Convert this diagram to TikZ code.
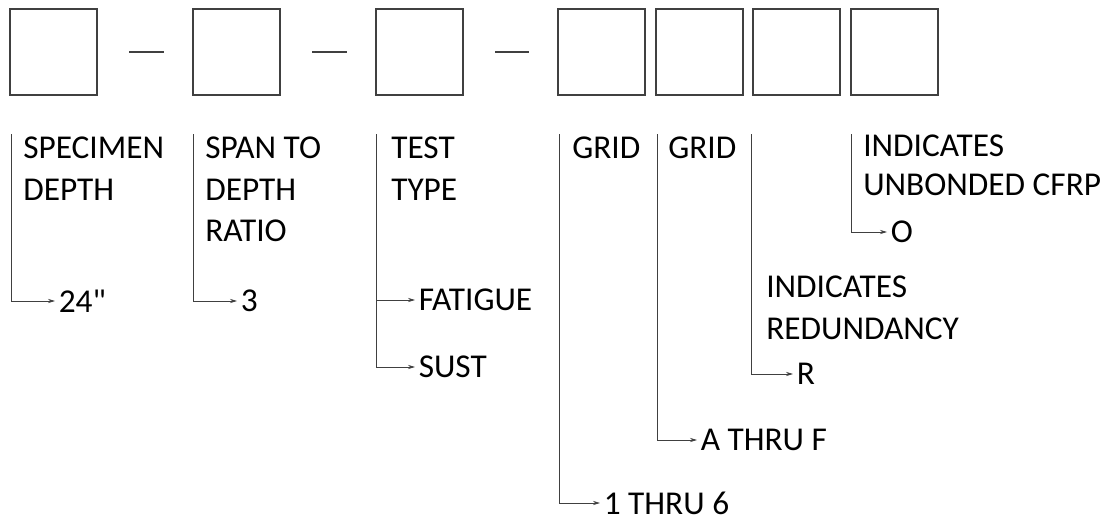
\documentclass[tikz,border=0pt]{standalone}
\usepackage{fontspec}
\setmainfont{Carlito}[Ligatures=TeXOff]
\usetikzlibrary{arrows.meta}

\begin{document}
\begin{tikzpicture}[x=0.025cm, y=-0.025cm, >={Stealth[length=5pt, width=3pt]},
        casebox/.style={draw=black!75, line width=0.9pt, minimum width=2.175cm,
            minimum height=2.15cm, inner sep=0pt},
        tiret/.style={draw=black!75, line width=0.8pt},
        titre/.style={font=\fontsize{23.7}{29.5}\selectfont, align=left,
            anchor=north west, inner sep=0pt},
        titreserre/.style={titre, font=\fontsize{23.7}{27.4}\selectfont},
        valeur/.style={font=\fontsize{23.7}{29.5}\selectfont, anchor=west,
            inner xsep=2.5pt, inner ysep=0pt},
        renvoi/.style={draw=black!75, line width=0.6pt, ->}]

        \useasboundingbox (0,0) rectangle (1110,519);

        % ==============================================================
        % 1. CASES DE LA DESIGNATION
        % ==============================================================
        \node[casebox] (b1) at (53.5, 52) {};
        \node[casebox] (b2) at (236.5, 52) {};
        \node[casebox] (b3) at (419.5, 52) {};
        \node[casebox] (b4) at (601.5, 52) {};
        \node[casebox] (b5) at (699.5, 52) {};
        \node[casebox] (b6) at (796.5, 52) {};
        \node[casebox] (b7) at (894.5, 52) {};

        % Tirets entre les groupes
        \coordinate (d1a) at (129, 52);  \coordinate (d1b) at (164, 52);
        \coordinate (d2a) at (312, 52);  \coordinate (d2b) at (347, 52);
        \coordinate (d3a) at (495, 52);  \coordinate (d3b) at (529, 52);
        \draw[tiret] (d1a) -- (d1b);
        \draw[tiret] (d2a) -- (d2b);
        \draw[tiret] (d3a) -- (d3b);

        % ==============================================================
        % 2. INTITULES DES CHAMPS
        % ==============================================================
        \node[titre] (h1) at (23, 137) {SPECIMEN\\DEPTH};
        \node[titre] (h2) at (205, 137) {SPAN TO\\DEPTH\\RATIO};
        \node[titre] (h3) at (391, 137) {TEST\\TYPE};
        \node[titre] (h4) at (572, 137) {GRID};
        \node[titre] (h5) at (668, 137) {GRID};
        \node[titre] (h6) at (766, 276) {INDICATES\\REDUNDANCY};
        \node[titreserre] (h7) at (863, 135) {INDICATES\\UNBONDED CFRP};

        % ==============================================================
        % 3. VALEURS POSSIBLES
        % ==============================================================
        \node[valeur] (v24)   at (55, 301)  {24"};
        \node[valeur] (vtrois) at (237, 301) {3};
        \node[valeur] (vfat)  at (415, 300) {FATIGUE};
        \node[valeur] (vsust) at (415, 367) {SUST};
        \node[valeur] (vnum)  at (600, 503) {1 THRU 6};
        \node[valeur] (vlet)  at (697, 440) {A THRU F};
        \node[valeur] (vred)  at (793, 374) {R};
        \node[valeur] (vcfrp) at (887, 232) {O};

        % ==============================================================
        % 4. LIGNES DE RENVOI
        % ==============================================================
        % Departs des lignes (sous les cases)
        \coordinate (t1) at (11, 134);
        \coordinate (t2) at (193, 134);
        \coordinate (t3) at (376, 134);
        \coordinate (t4) at (559, 134);
        \coordinate (t5) at (657, 134);
        \coordinate (t6) at (751, 134);
        \coordinate (t7) at (851, 134);

        \draw[renvoi] (t1) |- (v24);
        \draw[renvoi] (t2) |- (vtrois);
        \draw[renvoi] (t3) |- (vfat);
        \draw[renvoi] (t3) |- (vsust);
        \draw[renvoi] (t4) |- (vnum);
        \draw[renvoi] (t5) |- (vlet);
        \draw[renvoi] (t6) |- (vred);
        \draw[renvoi] (t7) |- (vcfrp);
    \end{tikzpicture}
\end{document}
